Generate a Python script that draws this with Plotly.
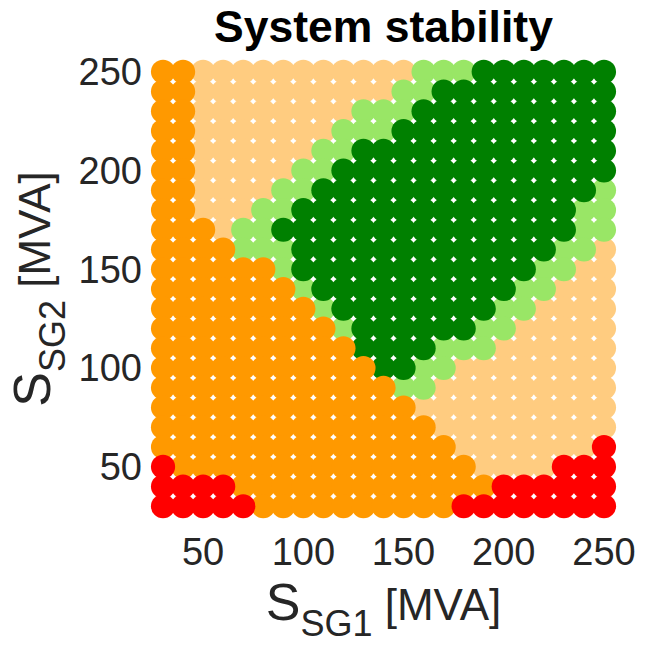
import plotly.graph_objects as go

# Grid of generator ratings (MVA)
s_sg1 = [30, 40, 50, 60, 70, 80, 90, 100, 110, 120, 130, 140, 150, 160, 170, 180, 190, 200, 210, 220, 230, 240, 250]
s_sg2_top_to_bottom = [250, 240, 230, 220, 210, 200, 190, 180, 170, 160, 150, 140, 130, 120, 110, 100, 90, 80, 70, 60, 50, 40, 30]

# Stability class per grid point, one string per S_SG2 row (top row first), one char per S_SG1 column
# L = light orange, G = light green, D = dark green, O = orange, R = red
class_rows = [
    "OOLLLLLLLLLLLGGGDDDDDDD",  # 250
    "OOLLLLLLLLLLGGDDDDDDDDD",  # 240
    "OOLLLLLLLLGGGDDDDDDDDDD",  # 230
    "OOLLLLLLLGGGDDDDDDDDDDD",  # 220
    "OOLLLLLLGGDDDDDDDDDDDDD",  # 210
    "OOLLLLLGGDDDDDDDDDDDDDD",  # 200
    "OOLLLLGGDDDDDDDDDDDDDDG",  # 190
    "OOLLLGGDDDDDDDDDDDDDDGG",  # 180
    "OOOLGGDDDDDDDDDDDDDDDGG",  # 170
    "OOOOGGGDDDDDDDDDDDDDGGL",  # 160
    "OOOOOOGDDDDDDDDDDDDGGLL",  # 150
    "OOOOOOOGDDDDDDDDDDGGLLL",  # 140
    "OOOOOOOOGDDDDDDDDGGLLLL",  # 130
    "OOOOOOOOOGDDDDDDGGLLLLL",  # 120
    "OOOOOOOOOODDDDGGGLLLLLL",  # 110
    "OOOOOOOOOOODDGGLLLLLLLL",  # 100
    "OOOOOOOOOOOOGGLLLLLLLLL",  # 90
    "OOOOOOOOOOOOOLLLLLLLLLL",  # 80
    "OOOOOOOOOOOOOOLLLLLLLLL",  # 70
    "OOOOOOOOOOOOOOOLLLLLLLR",  # 60
    "ROOOOOOOOOOOOOOOLLLLRRR",  # 50
    "RRRROOOOOOOOOOOOORRRRRR",  # 40
    "RRRRROOOOOOOOOORRRRRRRR",  # 30
]

# drawing order (bottom -> top) and colours
class_order = ["L", "G", "D", "O", "R"]
class_colors = {"L": "#FFCC80", "G": "#99E666", "D": "#008000", "O": "#FF9900", "R": "#FF0000"}
class_names = {"L": "class L", "G": "class G", "D": "class D", "O": "class O", "R": "class R"}

tick_vals = [50, 100, 150, 200, 250]

fig = go.Figure()
for c in class_order:
    xs, ys = [], []
    for row_y, row in zip(s_sg2_top_to_bottom, class_rows):
        for col_x, ch in zip(s_sg1, row):
            if ch == c:
                xs.append(col_x)
                ys.append(row_y)
    fig.add_trace(go.Scatter(
        x=xs, y=ys, mode="markers", name=class_names[c],
        marker=dict(size=24.2, color=class_colors[c], line=dict(width=0)),
        showlegend=False, cliponaxis=False,
    ))

FONT = "Liberation Sans, Arial, sans-serif"
tick_font = dict(family=FONT, size=38, color="#262626")
lab_font = dict(family=FONT, size=44, color="#262626")


def axis_label(sub):
    return ("<span style='font-size:52px'>S</span><sub><sub><span style='font-size:36px'>"
            + sub + "</span></sub></sub> [MVA]")


fig.update_layout(
    width=647, height=651,
    margin=dict(l=143, r=23, t=52, b=125),
    paper_bgcolor="white", plot_bgcolor="white",
    title=dict(text="<b>System stability</b>", xref="paper", x=0.5, xanchor="center",
               yref="container", y=0.96, yanchor="middle",
               font=dict(family=FONT, size=44.5, color="black")),
)
fig.update_xaxes(range=[20, 260], tickvals=tick_vals, showgrid=False, zeroline=False, showline=False,
                 ticks="", tickfont=tick_font,
                 title=dict(text=axis_label("SG1"), font=lab_font, standoff=4))
fig.update_yaxes(range=[20, 260], tickvals=tick_vals, showgrid=False, zeroline=False, showline=False,
                 ticks="", tickfont=tick_font,
                 title=dict(text=axis_label("SG2"), font=lab_font, standoff=14))

fig.write_html("out.html")
